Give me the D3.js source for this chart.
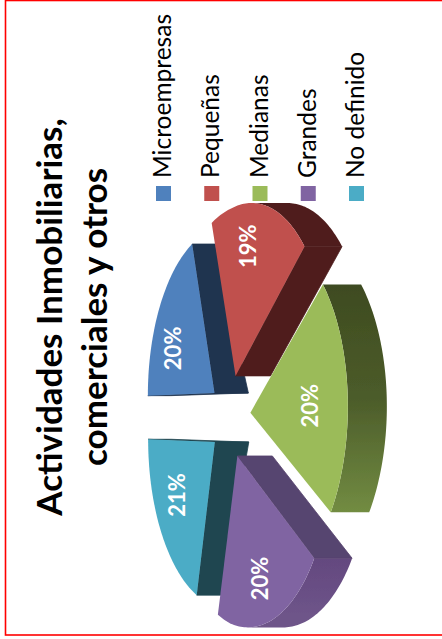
<!DOCTYPE html>
<html>
<head>
<meta charset="utf-8">
<script src="https://cdn.jsdelivr.net/npm/d3@7"></script>
<style>
  html, body { margin: 0; padding: 0; background: #fff; }
  svg { display: block; }
  text { font-family: Lato, "Open Sans", sans-serif; }
</style>
</head>
<body>
<script>
// Series
const categories = ["Microempresas", "Pequeñas", "Medianas", "Grandes", "No definido"];
const shares = [20, 19, 20, 20, 21];
const titleLines = ["Actividades Inmobiliarias,", "comerciales y otros"];

// Colours per slice: top face, cut wall, rim wall along the arc
const topColors = ["#4f81bd", "#c0504d", "#9bbb59", "#8064a2", "#4bacc6"];
const cutColors = ["#1f344f", "#4f1f1e", "#3e4b20", "#57446f", "#1f4650"];
const rimShades = [
  ["#1f344f", "#1f344f", "#1f344f"],
  ["#4f1f1e", "#4f1f1e", "#4f1f1e"],
  ["#3e4b20", "#4c5c2a", "#728c42"],
  ["#64497f", "#684e84", "#6e5489"],
  ["#1f4650", "#1f4650", "#1f4650"]
];
const softEdged = [false, true, true, true, false];

// Layout of the tilted pie
const width = 442, height = 639;
const centerX = 230, centerY = 417;
const spreadX = 79, spreadY = 168, perspective = 0.13, explode = 0.25, nearLift = 6;
const depthAt = d3.scaleLinear().domain([-0.51, -0.2, 1.25]).range([23, 34, 39]).clamp(true);
const labelReach = [0.5, 0.76, 0.66, 0.73, 0.57];
const labelShiftX = [-12, -5, -1, 0, -6];
const labelShiftY = [0, 0, 5, 3, 0];
const paintOrder = [0, 4, 1, 3, 2];

const svg = d3.select("body").append("svg").attr("width", width).attr("height", height);

const defs = svg.append("defs");
defs.append("filter").attr("id", "soft").attr("x", "-5%").attr("y", "-5%")
  .attr("width", "110%").attr("height", "110%")
  .append("feGaussianBlur").attr("stdDeviation", 0.7);

// Frame
svg.append("rect").attr("x", 5.5).attr("y", 0.5).attr("width", 446).attr("height", 634.5)
  .attr("fill", "#fff").attr("stroke", "#ff0000").attr("stroke-width", 1.6);

// Pie plane to page: the plane's "up" runs towards page left and it leans away from the viewer
function project(across, toward) {
  const k = 1 / (1 - perspective * toward);
  const base = toward * spreadX * k;
  return {
    x: centerX + base + depthAt(toward),
    topX: centerX + base,
    y: centerY + across * spreadY * k - nearLift * Math.max(0, toward)
  };
}
const polar = (angle, r) => ({ across: -Math.sin(angle) * r, toward: -Math.cos(angle) * r });

const pie = d3.pie().sort(null).startAngle(0).endAngle(2 * Math.PI);
const arcs = pie(shares);
const line = d3.line().x(d => d[0]).y(d => d[1]);

function outline(a) {
  const mid = (a.startAngle + a.endAngle) / 2;
  const off = polar(mid, explode);
  const steps = d3.range(0, 61).map(i => a.startAngle + (a.endAngle - a.startAngle) * i / 60);
  const pt = (across, toward) => {
    const p = project(across, toward);
    return { top: [p.topX, p.y], bottom: [p.x, p.y] };
  };
  const apex = pt(off.across, off.toward);
  const rim = steps.map(t => {
    const c = polar(t, 1);
    return pt(c.across + off.across, c.toward + off.toward);
  });
  return { apex, rim };
}

// A wall is drawn only when its quad winds towards the viewer
const facing = (p, q) => (q.top[0] - p.top[0]) * (p.bottom[1] - p.top[1]) - (q.top[1] - p.top[1]) * (p.bottom[0] - p.top[0]) < 0;
const quad = (p, q) => line([p.top, q.top, q.bottom, p.bottom]) + "Z";

paintOrder.forEach(i => {
  const o = outline(arcs[i]);
  const g = svg.append("g");
  const walls = g.append("g");
  if (softEdged[i]) walls.attr("filter", "url(#soft)");

  const first = o.rim[0], last = o.rim[o.rim.length - 1];

  // The visible part of the rim is one band, shaded down the page
  const visible = o.rim.filter((p, k) =>
    (k < o.rim.length - 1 && facing(p, o.rim[k + 1])) || (k > 0 && facing(o.rim[k - 1], p)));
  if (visible.length) {
    const grad = defs.append("linearGradient").attr("id", "rim" + i)
      .attr("gradientUnits", "userSpaceOnUse")
      .attr("x1", 0).attr("x2", 0)
      .attr("y1", first.top[1]).attr("y2", last.top[1]);
    rimShades[i].forEach((c, k) => grad.append("stop").attr("offset", k / 2).attr("stop-color", c));
    walls.append("path")
      .attr("d", line([...visible.map(p => p.top), ...visible.map(p => p.bottom).reverse()]) + "Z")
      .attr("fill", `url(#rim${i})`);
  }

  [[o.apex, first], [last, o.apex]].forEach(([p, q]) => {
    if (facing(p, q)) {
      walls.append("path").attr("d", quad(p, q)).attr("fill", cutColors[i])
        .attr("stroke", cutColors[i]).attr("stroke-width", 0.8);
    }
  });

  g.append("path")
    .attr("d", line([o.apex.top, ...o.rim.map(p => p.top)]) + "Z")
    .attr("fill", topColors[i]);
});

// Value labels
arcs.forEach((a, i) => {
  const mid = (a.startAngle + a.endAngle) / 2;
  const off = polar(mid, explode), c = polar(mid, labelReach[i]);
  const p = project(off.across + c.across, off.toward + c.toward);
  svg.append("text")
    .attr("transform", `translate(${p.topX + labelShiftX[i]},${p.y + labelShiftY[i]}) rotate(-90)`)
    .attr("text-anchor", "middle").attr("dy", "0.36em")
    .attr("font-size", 22).attr("font-weight", 700).attr("fill", "#fff")
    .text(shares[i] + "%");
});

// Title
titleLines.forEach((t, i) => {
  svg.append("text")
    .attr("transform", `translate(${61.5 + i * 45},317) rotate(-90)`)
    .attr("text-anchor", "middle")
    .attr("font-size", 35).attr("font-weight", 700).attr("fill", "#000")
    .text(t);
});

// Legend
const legendY = d3.scalePoint().domain(categories).range([163.5, 356.5]);
categories.forEach((c, i) => {
  const x = legendY(c);
  svg.append("rect").attr("x", x - 7.5).attr("y", 186).attr("width", 15).attr("height", 15)
    .attr("fill", topColors[i]);
  svg.append("text")
    .attr("transform", `translate(${x + 7.5},178) rotate(-90)`)
    .attr("font-size", 24.5).attr("fill", "#000")
    .text(c);
});
</script>
</body>
</html>
